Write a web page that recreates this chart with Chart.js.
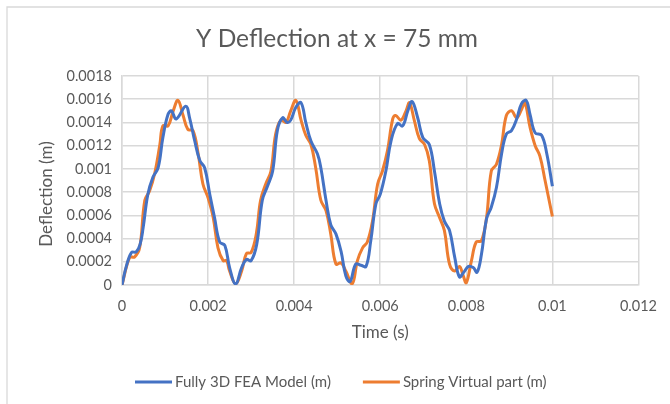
<!DOCTYPE html>
<html>
<head>
<meta charset="utf-8">
<script src="https://cdn.jsdelivr.net/npm/chart.js@4.4.1/dist/chart.umd.min.js"></script>
<style>
  html, body { margin: 0; padding: 0; background: #fff; }
  canvas { display: block; }
</style>
</head>
<body>
<canvas id="chart" width="670" height="404"></canvas>
<script>
const TITLE = 'Y Deflection at x = 75 mm';
const X_TITLE = 'Time (s)';
const Y_TITLE = 'Deflection (m)';

const xTickLabels = ['0', '0.002', '0.004', '0.006', '0.008', '0.01', '0.012'];
const yTickLabels = ['0', '0.0002', '0.0004', '0.0006', '0.0008', '0.001', '0.0012', '0.0014', '0.0016', '0.0018'];

// Fully 3D FEA Model (m)
const feaTime = [
  0, 0.0001, 0.00022, 0.00033, 0.00042, 0.00049, 0.0006, 0.00072, 0.00084, 0.00095,
  0.00107, 0.00115, 0.00126, 0.00148, 0.00157, 0.00169, 0.00181, 0.00192, 0.00204, 0.00215,
  0.00227, 0.00239, 0.0025, 0.00264, 0.00278, 0.00289, 0.003, 0.00313, 0.00326, 0.00338,
  0.0035, 0.00361, 0.00373, 0.00384, 0.00392, 0.00404, 0.00416, 0.00427, 0.00439, 0.00454,
  0.00462, 0.00474, 0.00485, 0.00497, 0.00509, 0.0052, 0.0053, 0.00543, 0.00555, 0.00567,
  0.00578, 0.0059, 0.006, 0.00613, 0.00625, 0.0064, 0.00652, 0.00664, 0.00674, 0.00687,
  0.00699, 0.00714, 0.00726, 0.00738, 0.00749, 0.00761, 0.00773, 0.00784, 0.00794, 0.00805,
  0.00816, 0.00825, 0.00835, 0.00847, 0.00858, 0.0087, 0.00882, 0.00893, 0.00905, 0.00917,
  0.00928, 0.00939, 0.00948, 0.0096, 0.00975, 0.00987, 0.01
];
const feaDefl = [
  0, 0.00016, 0.00028, 0.000285, 0.00035, 0.00049, 0.00078, 0.00093, 0.00101, 0.00127,
  0.00147, 0.0015, 0.00143, 0.00154, 0.00144, 0.00124, 0.00107, 0.00101, 0.00078, 0.00058,
  0.00037, 0.00034, 0.00015, 0.00001, 0.00015, 0.00022, 0.00021, 0.00035, 0.00073, 0.00085,
  0.00098, 0.00133, 0.00144, 0.0014, 0.00142, 0.00153, 0.00157, 0.0014, 0.00124, 0.00113,
  0.00101, 0.00073, 0.00052, 0.00044, 0.00029, 0.00008, 0.00003, 0.00018, 0.00017, 0.00016,
  0.00038, 0.0007, 0.00078, 0.00098, 0.00124, 0.00139, 0.00137, 0.0015, 0.00158, 0.00144,
  0.00127, 0.00121, 0.00098, 0.0007, 0.00055, 0.00047, 0.00024, 0.00007, 0.00011, 0.00016,
  0.00015, 0.00011, 0.00026, 0.00057, 0.00067, 0.00084, 0.00113, 0.0013, 0.00133, 0.00143,
  0.00156, 0.00159, 0.00147, 0.00131, 0.00129, 0.00113, 0.00085
];

// Spring Virtual part (m)
const springTime = [
  0, 0.00018, 0.00029, 0.00041, 0.00053, 0.00064, 0.00076, 0.00088, 0.00095, 0.00107,
  0.00119, 0.0013, 0.00142, 0.00153, 0.00165, 0.00177, 0.00188, 0.002, 0.00212, 0.00223,
  0.00235, 0.00243, 0.0025, 0.00264, 0.00278, 0.00289, 0.003, 0.00312, 0.00322, 0.00334,
  0.00346, 0.00357, 0.00369, 0.00381, 0.00392, 0.00404, 0.00416, 0.00427, 0.00439, 0.0045,
  0.00462, 0.00474, 0.00485, 0.00497, 0.00509, 0.0052, 0.00535, 0.00547, 0.00559, 0.0057,
  0.00582, 0.00594, 0.00605, 0.00617, 0.00629, 0.00636, 0.00648, 0.0066, 0.00668, 0.00679,
  0.00691, 0.00703, 0.00714, 0.00726, 0.00738, 0.00749, 0.00761, 0.00773, 0.00784, 0.00792,
  0.008, 0.00812, 0.00823, 0.00835, 0.00847, 0.00858, 0.0087, 0.00882, 0.00893, 0.00905,
  0.00917, 0.00928, 0.00936, 0.00948, 0.0096, 0.00971, 0.00983, 0.01
];
const springDefl = [
  0, 0.00024, 0.00024, 0.00032, 0.00073, 0.00081, 0.00096, 0.00121, 0.00137, 0.00137,
  0.0015, 0.00159, 0.00146, 0.00134, 0.00133, 0.00113, 0.00087, 0.00075, 0.00058, 0.00032,
  0.00021, 0.00021, 0.00012, 0.00001, 0.00012, 0.00027, 0.00028, 0.00044, 0.00073, 0.00087,
  0.00098, 0.0013, 0.00142, 0.0014, 0.0015, 0.00159, 0.00142, 0.00129, 0.00121, 0.00101,
  0.00073, 0.00064, 0.00044, 0.00018, 0.00019, 0.00012, 0.00001, 0.00021, 0.00032, 0.00037,
  0.00055, 0.00087, 0.00098, 0.00116, 0.00143, 0.00146, 0.00142, 0.0015, 0.00157, 0.00142,
  0.00126, 0.00121, 0.00107, 0.0007, 0.00058, 0.00047, 0.00018, 0.00012, 0.00016, 0.00009,
  0.00002, 0.00021, 0.00037, 0.00038, 0.00058, 0.00098, 0.00104, 0.00121, 0.00146, 0.0015,
  0.00144, 0.00151, 0.00157, 0.00136, 0.0012, 0.00111, 0.0009, 0.00059
];

const TEXT = '#595959';
const GRID = '#d9d9d9';
const FONT = 'Lato, "Open Sans", sans-serif';

const toPoints = (xs, ys) => xs.map((x, i) => ({ x, y: ys[i] }));

// frame, title, rotated y title and the legend row, placed the Excel way
const decorPlugin = {
  id: 'decor',
  beforeDraw(chart) {
    const { ctx, width, height } = chart;
    ctx.save();
    ctx.fillStyle = '#fff';
    ctx.fillRect(0, 0, width, height);
    ctx.strokeStyle = GRID;
    ctx.lineWidth = 1.3;
    ctx.beginPath();
    ctx.moveTo(7, height);
    ctx.lineTo(7, 7);
    ctx.lineTo(width, 7);
    ctx.stroke();
    ctx.restore();
  },
  afterDraw(chart) {
    const { ctx } = chart;
    ctx.save();
    ctx.fillStyle = TEXT;
    ctx.textAlign = 'center';
    ctx.textBaseline = 'middle';
    ctx.font = '24.5px ' + FONT;
    ctx.fillText(TITLE, 337, 39);
    ctx.font = '17px ' + FONT;
    ctx.translate(47, 194);
    ctx.rotate(-Math.PI / 2);
    ctx.fillText(Y_TITLE, 0, 0);
    ctx.restore();

    ctx.save();
    ctx.font = '15px ' + FONT;
    ctx.textBaseline = 'middle';
    ctx.textAlign = 'left';
    let x = 135;
    const y = 382;
    chart.data.datasets.forEach(ds => {
      ctx.strokeStyle = ds.borderColor;
      ctx.lineWidth = 3;
      ctx.beginPath();
      ctx.moveTo(x, y);
      ctx.lineTo(x + 37, y);
      ctx.stroke();
      ctx.fillStyle = TEXT;
      ctx.fillText(ds.label, x + 40, y);
      x += 40 + ctx.measureText(ds.label).width + 32;
    });
    ctx.restore();
  }
};

new Chart(document.getElementById('chart'), {
  type: 'scatter',
  plugins: [decorPlugin],
  data: {
    datasets: [
      {
        label: 'Fully 3D FEA Model (m)',
        data: toPoints(feaTime, feaDefl),
        borderColor: '#4472C4',
        showLine: true,
        borderWidth: 3,
        tension: 0.4,
        pointRadius: 0
      },
      {
        label: 'Spring Virtual part (m)',
        data: toPoints(springTime, springDefl),
        borderColor: '#ED7D31',
        showLine: true,
        borderWidth: 3,
        tension: 0.4,
        pointRadius: 0
      }
    ]
  },
  options: {
    responsive: false,
    animation: false,
    layout: { padding: { left: 0, right: 31, top: 76, bottom: 54 } },
    plugins: {
      legend: { display: false },
      tooltip: { enabled: false },
      title: { display: false }
    },
    scales: {
      x: {
        type: 'linear',
        min: 0,
        max: 0.012,
        afterFit: s => { s.height = 65; },
        ticks: {
          stepSize: 0.002,
          color: TEXT,
          font: { family: FONT, size: 14.5 },
          padding: 13,
          maxRotation: 0,
          callback: (v, i) => xTickLabels[i]
        },
        grid: { color: GRID, lineWidth: 1.5, drawTicks: false },
        border: { color: GRID, width: 1.5 },
        title: {
          display: true,
          text: X_TITLE,
          color: TEXT,
          font: { family: FONT, size: 17 },
          padding: { top: 0, bottom: 7 }
        }
      },
      y: {
        min: 0,
        max: 0.0018,
        afterFit: s => { s.width = 122; },
        ticks: {
          stepSize: 0.0002,
          color: TEXT,
          font: { family: FONT, size: 14.5 },
          padding: 10,
          callback: (v, i) => yTickLabels[i]
        },
        grid: { color: GRID, lineWidth: 1.5, drawTicks: false },
        border: { color: GRID, width: 1.5 }
      }
    }
  }
});
</script>
</body>
</html>
